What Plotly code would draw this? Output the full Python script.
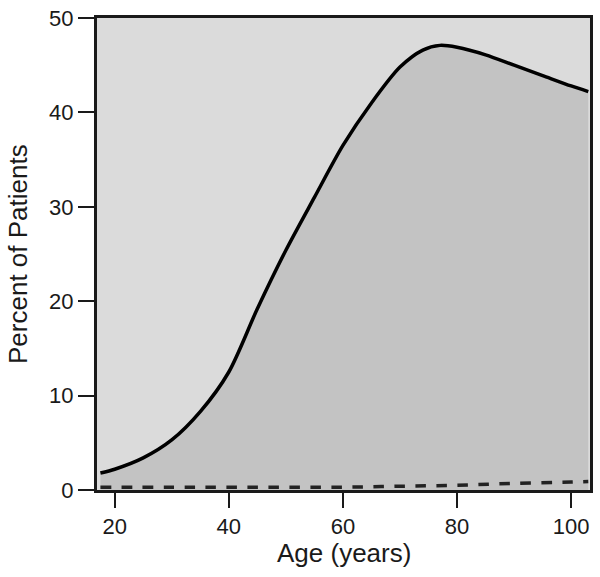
import plotly.graph_objects as go

ages = [17.5, 20, 25, 30, 35, 40, 45, 50, 55, 60, 65, 70, 74, 77, 80, 85, 90, 95, 100, 103]
percent_main = [1.8, 2.2, 3.4, 5.3, 8.3, 12.5, 19.2, 25.4, 31.0, 36.5, 41.0, 44.8, 46.6, 47.1, 46.9, 46.1, 45.0, 43.9, 42.8, 42.2]

ages_low = [17.5, 30, 40, 50, 60, 70, 80, 90, 100, 103]
percent_low = [0.3, 0.3, 0.3, 0.3, 0.3, 0.4, 0.5, 0.7, 0.85, 0.9]

x_ticks = [20, 40, 60, 80, 100]
y_ticks = [0, 10, 20, 30, 40, 50]

x_title = "Age (years)"
y_title = "Percent of Patients"

font_family = "Liberation Sans, Arial, sans-serif"
ink = "#1a1a1a"

fig = go.Figure()
fig.add_trace(go.Scatter(
    x=ages, y=percent_main, mode="lines",
    line=dict(color="black", width=3.5, shape="spline", smoothing=0.8),
    fill="tozeroy", fillcolor="#c3c3c3", showlegend=False, hoverinfo="skip"))
fig.add_trace(go.Scatter(
    x=ages_low, y=percent_low, mode="lines",
    line=dict(color="#222222", width=3.5, dash="dash", shape="spline"),
    showlegend=False, hoverinfo="skip"))

fig.update_layout(
    width=600, height=577,
    margin=dict(l=97, r=10, t=18, b=87),
    paper_bgcolor="white", plot_bgcolor="#dbdbdb",
    font=dict(family=font_family, color=ink, size=22),
    xaxis=dict(
        range=[16.9, 103.3], tickvals=x_ticks, ticktext=[str(v) for v in x_ticks],
        ticks="outside", ticklen=15, tickwidth=2, tickcolor=ink,
        showline=True, linewidth=3, linecolor=ink, mirror=True,
        showgrid=False, zeroline=False, automargin=False,
        tickfont=dict(size=22)),
    yaxis=dict(
        range=[0, 50], tickvals=y_ticks, ticktext=[str(v) for v in y_ticks],
        ticks="outside", ticklen=16, tickwidth=2, tickcolor=ink,
        showline=True, linewidth=3, linecolor=ink, mirror=True,
        showgrid=False, zeroline=False, automargin=False,
        tickfont=dict(size=22)),
    annotations=[
        dict(text=x_title, xref="paper", yref="paper", x=0.5, y=0,
             xanchor="center", yanchor="middle", yshift=-63, showarrow=False,
             font=dict(size=26, color=ink)),
        dict(text=y_title, xref="paper", yref="paper", x=0, y=0.5,
             xanchor="center", yanchor="middle", xshift=-79, textangle=-90,
             showarrow=False, font=dict(size=26, color=ink)),
    ],
)

# remove the default 8px page margin so the figure sits at the window's corner
fig.write_html("out.html", config={"displayModeBar": False},
               post_script="document.body.style.margin='0';")
